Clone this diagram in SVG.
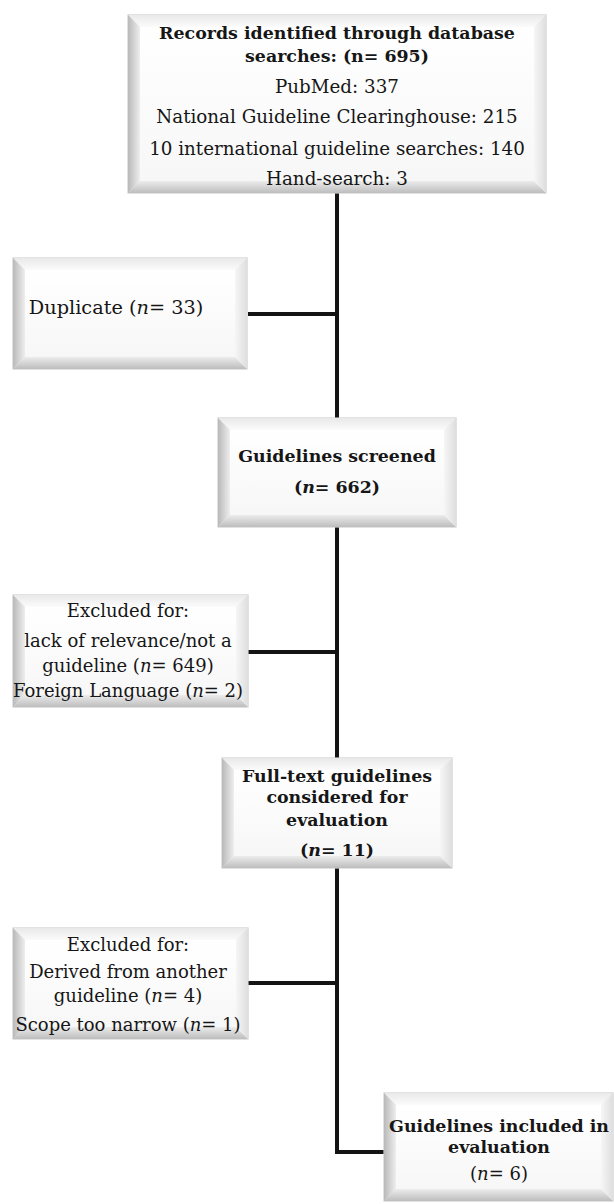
<svg xmlns="http://www.w3.org/2000/svg" width="614" height="1204" viewBox="0 0 614 1204">
<defs>
<linearGradient id="gTop" x1="0" y1="0" x2="0" y2="1"><stop offset="0" stop-color="#e9e9e9"/><stop offset="1" stop-color="#fbfbfb"/></linearGradient>
<linearGradient id="gLeft" x1="0" y1="0" x2="1" y2="0"><stop offset="0" stop-color="#b9b9b9"/><stop offset="1" stop-color="#eeeeee"/></linearGradient>
<linearGradient id="gBottom" x1="0" y1="0" x2="0" y2="1"><stop offset="0" stop-color="#ececec"/><stop offset="1" stop-color="#bdbdbd"/></linearGradient>
<linearGradient id="gRight" x1="0" y1="0" x2="1" y2="0"><stop offset="0" stop-color="#f6f6f6"/><stop offset="1" stop-color="#dedede"/></linearGradient>
<linearGradient id="gFace" x1="0" y1="0" x2="0" y2="1"><stop offset="0" stop-color="#ffffff"/><stop offset="1" stop-color="#f7f7f7"/></linearGradient>
</defs>
<style>
.frame{fill:#eeeeee;stroke:#cfcfcf;stroke-width:1.2}
.bt{fill:url(#gTop)}.bl{fill:url(#gLeft)}.bb{fill:url(#gBottom)}.br{fill:url(#gRight)}
.face{fill:url(#gFace)}
.conn{fill:none;stroke:#141414;stroke-width:4}
text{font-family:"DejaVu Serif","Liberation Serif",serif;fill:#161616;text-anchor:middle}
.b{font-weight:bold;font-size:17.4px}
.r{font-size:18px}
.r1{font-size:18.3px}
.r2{font-size:19.3px}
.i{font-style:italic}
</style>
<g id="connectors">
<path class="conn" d="M337 193 V1152 H384"/>
<path class="conn" d="M248 314 H337"/>
<path class="conn" d="M248 652 H337"/>
<path class="conn" d="M248 983 H337"/>
</g>
<g id="records">
<rect class="frame" x="128" y="15" width="418" height="178"/>
<polygon class="bt" points="128,15 546,15 534,27 140,27"/>
<polygon class="bl" points="128,15 140,27 140,181 128,193"/>
<polygon class="bb" points="128,193 140,181 534,181 546,193"/>
<polygon class="br" points="546,15 546,193 534,181 534,27"/>
<rect class="face" x="140" y="27" width="394" height="154"/>
<text class="b" x="337" y="39">Records identified through database</text>
<text class="b" x="337" y="62">searches: (n= 695)</text>
<text class="r1" x="337" y="93">PubMed: 337</text>
<text class="r1" x="337" y="123">National Guideline Clearinghouse: 215</text>
<text class="r1" x="337" y="155">10 international guideline searches: 140</text>
<text class="r1" x="337" y="185">Hand-search: 3</text>
</g>
<g id="duplicate">
<rect class="frame" x="13" y="258" width="234" height="111"/>
<polygon class="bt" points="13,258 247,258 235,270 25,270"/>
<polygon class="bl" points="13,258 25,270 25,357 13,369"/>
<polygon class="bb" points="13,369 25,357 235,357 247,369"/>
<polygon class="br" points="247,258 247,369 235,357 235,270"/>
<rect class="face" x="25" y="270" width="210" height="87"/>
<text class="r2" x="116" y="314">Duplicate (<tspan class="i">n</tspan>= 33)</text>
</g>
<g id="screened">
<rect class="frame" x="218" y="418" width="238" height="109"/>
<polygon class="bt" points="218,418 456,418 444,430 230,430"/>
<polygon class="bl" points="218,418 230,430 230,515 218,527"/>
<polygon class="bb" points="218,527 230,515 444,515 456,527"/>
<polygon class="br" points="456,418 456,527 444,515 444,430"/>
<rect class="face" x="230" y="430" width="214" height="85"/>
<text class="b" x="337" y="462">Guidelines screened</text>
<text class="b" x="337" y="493">(<tspan class="i">n</tspan>= 662)</text>
</g>
<g id="excluded1">
<rect class="frame" x="13" y="595" width="235" height="112"/>
<polygon class="bt" points="13,595 248,595 236,607 25,607"/>
<polygon class="bl" points="13,595 25,607 25,695 13,707"/>
<polygon class="bb" points="13,707 25,695 236,695 248,707"/>
<polygon class="br" points="248,595 248,707 236,695 236,607"/>
<rect class="face" x="25" y="607" width="211" height="88"/>
<text class="r" x="128" y="617">Excluded for:</text>
<text class="r" x="128" y="647">lack of relevance/not a</text>
<text class="r" x="128" y="672">guideline (<tspan class="i">n</tspan>= 649)</text>
<text class="r" x="128" y="697">Foreign Language (<tspan class="i">n</tspan>= 2)</text>
</g>
<g id="fulltext">
<rect class="frame" x="222" y="758" width="230" height="110"/>
<polygon class="bt" points="222,758 452,758 440,770 234,770"/>
<polygon class="bl" points="222,758 234,770 234,856 222,868"/>
<polygon class="bb" points="222,868 234,856 440,856 452,868"/>
<polygon class="br" points="452,758 452,868 440,856 440,770"/>
<rect class="face" x="234" y="770" width="206" height="86"/>
<text class="b" x="337" y="782">Full-text guidelines</text>
<text class="b" x="337" y="803">considered for</text>
<text class="b" x="337" y="826">evaluation</text>
<text class="b" x="337" y="856">(<tspan class="i">n</tspan>= 11)</text>
</g>
<g id="excluded2">
<rect class="frame" x="13" y="928" width="235" height="111"/>
<polygon class="bt" points="13,928 248,928 236,940 25,940"/>
<polygon class="bl" points="13,928 25,940 25,1027 13,1039"/>
<polygon class="bb" points="13,1039 25,1027 236,1027 248,1039"/>
<polygon class="br" points="248,928 248,1039 236,1027 236,940"/>
<rect class="face" x="25" y="940" width="211" height="87"/>
<text class="r" x="128" y="951">Excluded for:</text>
<text class="r" x="128" y="978">Derived from another</text>
<text class="r" x="128" y="1002">guideline (<tspan class="i">n</tspan>= 4)</text>
<text class="r" x="128" y="1031">Scope too narrow (<tspan class="i">n</tspan>= 1)</text>
</g>
<g id="included">
<rect class="frame" x="384" y="1093" width="229" height="108"/>
<polygon class="bt" points="384,1093 613,1093 601,1105 396,1105"/>
<polygon class="bl" points="384,1093 396,1105 396,1189 384,1201"/>
<polygon class="bb" points="384,1201 396,1189 601,1189 613,1201"/>
<polygon class="br" points="613,1093 613,1201 601,1189 601,1105"/>
<rect class="face" x="396" y="1105" width="205" height="84"/>
<text class="b" x="499" y="1132">Guidelines included in</text>
<text class="b" x="499" y="1153">evaluation</text>
<text class="r" x="499" y="1180">(<tspan class="i">n</tspan>= 6)</text>
</g>
</svg>
